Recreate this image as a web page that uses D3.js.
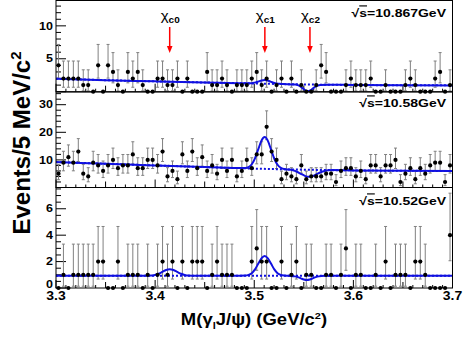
<!DOCTYPE html>
<html><head><meta charset="utf-8">
<script src="https://cdn.jsdelivr.net/npm/d3@7"></script>
<style>
body{margin:0;background:#fff}
svg{display:block}
text{font-family:"Liberation Sans",Arial,Helvetica,sans-serif;font-weight:bold;fill:#000}
</style>
</head><body>
<svg id="chart" width="474" height="340"></svg>
<script>
// ---------------- data ----------------
const massLow = 3.3, massHigh = 3.7, binWidth = 0.005;
const panelLabels = ["10.867", "10.58", "10.52"];

// events per 5 MeV bin (80 bins from 3.300 to 3.700 GeV)
const counts10867 = [4,2,2,2,2,1,1,0,4,0, 4,3,1,0,3,2,3,1,0,0, 2,2,1,1,2,0,2,0,0,0,
                     3,1,1,2,1,0,1,1,1,2, 3,1,2,0,1,2,0,2,0,1, 0,0,1,4,3,0,0,0,1,2,
                     1,1,1,2,0,0,1,0,0,0, 1,2,1,0,0,0,2,3,0,1];
const counts1058  = [5,9,11,9,13,5,4,9,8,6, 8,10,7,8,8,12,7,7,10,10, 8,13,4,6,3,12,6,13,7,11,
                     6,8,5,10,6,10,4,6,10,7, 12,12,22,13,10,3,5,4,3,8, 3,4,4,4,5,5,2,6,7,7,
                     4,6,3,8,8,4,8,8,10,2, 5,7,3,7,5,8,9,9,2,8];
const counts1052  = [0,1,0,1,1,1,1,1,2,2, 0,0,2,0,1,1,1,0,1,0, 1,2,1,2,0,2,0,2,2,2,
                     0,1,2,1,1,1,0,0,0,2, 3,2,2,0,0,2,0,1,2,0, 1,1,0,0,1,1,0,1,3,0,
                     1,1,0,0,1,0,2,0,1,1, 1,0,2,2,1,0,0,0,0,4];

// fitted curves: [mass, events]
const fit10867 = [[3.300,1.97],[3.350,1.75],[3.400,1.57],[3.450,1.40],[3.490,1.28],[3.4955,1.29],[3.4985,1.33],
  [3.5015,1.42],[3.5045,1.57],[3.5075,1.71],[3.5105,1.77],[3.5135,1.69],[3.5165,1.53],[3.5195,1.37],[3.5225,1.25],
  [3.5255,1.19],[3.5415,1.09],[3.544,0.99],[3.5465,0.79],[3.549,0.50],[3.5515,0.21],[3.554,0.09],[3.5565,0.20],
  [3.559,0.47],[3.5615,0.75],[3.564,0.93],[3.5665,1.02],[3.575,1.06],[3.600,1.02],[3.650,0.98],[3.700,0.96]];
const bkg10867 = [[3.30,1.97],[3.35,1.75],[3.40,1.57],[3.45,1.40],[3.50,1.25],[3.55,1.10],[3.60,1.02],[3.65,0.98],[3.70,0.96]];

const fit1058 = [[3.300,9.2],[3.350,8.6],[3.400,8.0],[3.450,7.4],[3.480,7.1],[3.4910,7.05],[3.49425,7.40],[3.4975,8.43],
  [3.50075,10.57],[3.5040,13.79],[3.50725,16.94],[3.5105,18.27],[3.51375,16.89],[3.5170,13.69],[3.52025,10.42],
  [3.5235,8.23],[3.52675,7.14],[3.531,6.61],[3.535,6.50],[3.539,6.23],[3.543,5.72],[3.547,4.97],[3.551,4.23],
  [3.555,3.90],[3.559,4.17],[3.563,4.84],[3.567,5.53],[3.571,5.99],[3.575,6.21],[3.579,6.30],[3.600,6.20],
  [3.650,6.05],[3.700,6.00]];
const bkg1058 = [[3.30,9.2],[3.35,8.6],[3.40,8.0],[3.45,7.4],[3.50,6.85],[3.55,6.45],[3.60,6.20],[3.65,6.05],[3.70,6.00]];

const fit1052 = [[3.300,0.92],[3.392,0.93],[3.396,0.94],[3.39975,0.99],[3.4035,1.08],[3.40725,1.22],[3.411,1.36],
  [3.4147,1.42],[3.4185,1.36],[3.42225,1.22],[3.426,1.08],[3.42975,0.99],[3.4335,0.94],[3.437,0.93],[3.480,0.92],
  [3.4910,0.94],[3.49425,0.99],[3.4975,1.12],[3.50075,1.41],[3.5040,1.83],[3.50725,2.24],[3.5105,2.42],[3.51375,2.24],
  [3.5170,1.83],[3.52025,1.41],[3.5235,1.12],[3.52675,0.99],[3.5300,0.94],[3.535,0.92],[3.541,0.88],[3.544,0.82],
  [3.547,0.73],[3.550,0.64],[3.553,0.60],[3.556,0.64],[3.559,0.73],[3.562,0.82],[3.565,0.88],[3.571,0.92],[3.700,0.92]];
const bkg1052 = [[3.30,0.92],[3.50,0.92],[3.70,0.92]];

const yTicks10867 = [5, 10];
const yTicks1058  = [10, 20, 30];
const yTicks1052  = [0, 2, 4, 6];
const xTickLabels = [3.3, 3.4, 3.5, 3.6, 3.7];
const charmonia   = ["c0", "c1", "c2"];
const charmoniumMass = [3.4147, 3.5107, 3.5562];

// ---------------- layout ----------------
const svg = d3.select("#chart");
const x = d3.scaleLinear().domain([massLow, massHigh]).range([56, 452.5]);
const binCenters = d3.range(counts1058.length).map(i => massLow + binWidth * (i + 0.5));

const panels = [
  {counts: counts10867, fit: fit10867, bkg: bkg10867, ticks: yTicks10867, top: 0.5, bottom: 91.7, ymax: 13.85, minor: 1, label: panelLabels[0], labelY: 17},
  {counts: counts1058,  fit: fit1058,  bkg: bkg1058,  ticks: yTicks1058,  top: 92, bottom: 187.5, ymax: 34.6, minor: 2, label: panelLabels[1], labelY: 107},
  {counts: counts1052,  fit: fit1052,  bkg: bkg1052,  ticks: yTicks1052,  top: 187.5, bottom: 288, ymax: 7.61, minor: 0.5, label: panelLabels[2], labelY: 205}
];

function poissonLow(n){ return n - Math.sqrt(n - 0.25); }
function poissonHigh(n){ return n + 1 + Math.sqrt(n + 0.75); }

const blue = "#1010e0";

panels.forEach((p, pi) => {
  const y = d3.scaleLinear().domain([0, p.ymax]).range([p.bottom, p.top]);
  const g = svg.append("g");
  const clipId = "clip" + pi;
  svg.append("clipPath").attr("id", clipId).append("rect")
    .attr("x", x(massLow)).attr("y", p.top).attr("width", x(massHigh) - x(massLow)).attr("height", p.bottom - p.top);

  // y ticks (inside)
  const minorTicks = d3.range(0, p.ymax, p.minor);
  g.selectAll(".ym").data(minorTicks).join("line")
    .attr("x1", x(massLow)).attr("x2", d => x(massLow) + (p.ticks.includes(d) || d === 0 ? 10 : 5))
    .attr("y1", d => y(d)).attr("y2", d => y(d))
    .attr("stroke", "#000").attr("stroke-width", 1);
  // x ticks (inside, bottom)
  const xMinor = d3.range(0, 41, 1).map(k => massLow + k * 0.01);
  g.selectAll(".xm").data(xMinor).join("line")
    .attr("x1", d => x(d)).attr("x2", d => x(d))
    .attr("y1", p.bottom).attr("y2", (d, k) => p.bottom - (k % 10 === 0 ? 8 : (k % 5 === 0 ? 6 : 3)))
    .attr("stroke", "#000").attr("stroke-width", 1);

  // y tick labels
  g.selectAll(".yl").data(p.ticks).join("text")
    .attr("transform", d => `translate(53,${y(d) - (d === 0 ? 4 : 0)}) scale(1,0.82)`)
    .attr("text-anchor", "end").attr("dy", "0.36em")
    .style("font-size", "12.5px").text(d => d);

  const plot = g.append("g").attr("clip-path", `url(#${clipId})`);

  // error bars
  const pts = p.counts.map((c, i) => ({m: binCenters[i], c}));
  const eb = plot.selectAll(".eb").data(pts.filter(d => d.c > 0)).join("g").attr("stroke", "#808080").attr("stroke-width", 1);
  eb.append("line").attr("x1", d => x(d.m)).attr("x2", d => x(d.m))
    .attr("y1", d => y(poissonLow(d.c))).attr("y2", d => y(poissonHigh(d.c)));
  eb.append("line").attr("x1", d => x(d.m) - 1.5).attr("x2", d => x(d.m) + 1.5)
    .attr("y1", d => y(poissonHigh(d.c))).attr("y2", d => y(poissonHigh(d.c)));
  eb.append("line").attr("x1", d => x(d.m) - 1.5).attr("x2", d => x(d.m) + 1.5)
    .attr("y1", d => y(poissonLow(d.c))).attr("y2", d => y(poissonLow(d.c)));

  // fit curves
  const line = d3.line().x(d => x(d[0])).y(d => y(d[1])).curve(d3.curveMonotoneX);
  plot.append("path").attr("d", line(p.bkg)).attr("fill", "none")
    .attr("stroke", blue).attr("stroke-width", 2).attr("stroke-dasharray", "2,2");
  plot.append("path").attr("d", line(p.fit)).attr("fill", "none")
    .attr("stroke", blue).attr("stroke-width", 2);

  // points
  svg.append("g").selectAll("circle").data(pts).join("circle")
    .attr("cx", d => x(d.m)).attr("cy", d => y(d.c)).attr("r", 2.1).attr("fill", "#000");

  // frame
  g.append("rect").attr("x", x(massLow)).attr("y", p.top).attr("width", x(massHigh) - x(massLow))
    .attr("height", p.bottom - p.top).attr("fill", "none").attr("stroke", "#000").attr("stroke-width", 1);

  // energy label
  const lab = svg.append("text").attr("transform", `translate(446,${p.labelY}) scale(1,0.82)`)
    .attr("text-anchor", "end").style("font-size", "14px");
  lab.append("tspan").text("\u221A");
  lab.append("tspan").style("text-decoration", "overline").text("s");
  lab.append("tspan").text("=" + p.label + "GeV");
});

// x tick labels
svg.selectAll(".xl").data(xTickLabels).join("text")
  .attr("transform", d => `translate(${x(d)},300) scale(1,0.85)`)
  .attr("text-anchor", "middle").style("font-size", "14px").text(d => d.toFixed(1));

// arrows and labels in top panel
charmonia.forEach((name, k) => {
  const xm = x(charmoniumMass[k]);
  svg.append("line").attr("x1", xm).attr("x2", xm).attr("y1", 27).attr("y2", 48)
    .attr("stroke", "#ff0000").attr("stroke-width", 1.5);
  svg.append("path").attr("d", `M${xm - 2.8},46 L${xm + 2.8},46 L${xm},53 Z`).attr("fill", "#ff0000");
  const t = svg.append("text").attr("transform", `translate(${xm - 9},20) scale(1,0.85)`).style("font-size", "15px");
  t.append("tspan").style("font-weight", "normal").text("\u03C7");
  t.append("tspan").attr("dy", 3).style("font-size", "10px").text(name);
});

// axis titles
const xt = svg.append("text").attr("transform", "translate(254,325) scale(1,0.9)")
  .attr("text-anchor", "middle").style("font-size", "18.5px");
xt.append("tspan").text("M(\u03B3");
xt.append("tspan").attr("dy", 4).style("font-size", "11px").text("l");
xt.append("tspan").attr("dy", -4).text("J/\u03C8) (GeV/c");
xt.append("tspan").attr("dy", -7).style("font-size", "11px").text("2");
xt.append("tspan").attr("dy", 7).text(")");

const yt = svg.append("text").attr("transform", "translate(30,143) rotate(-90)")
  .attr("text-anchor", "middle").style("font-size", "24px");
yt.append("tspan").text("Events/5 MeV/c");
yt.append("tspan").attr("dy", -9).style("font-size", "15px").text("2");
</script>
</body></html>
